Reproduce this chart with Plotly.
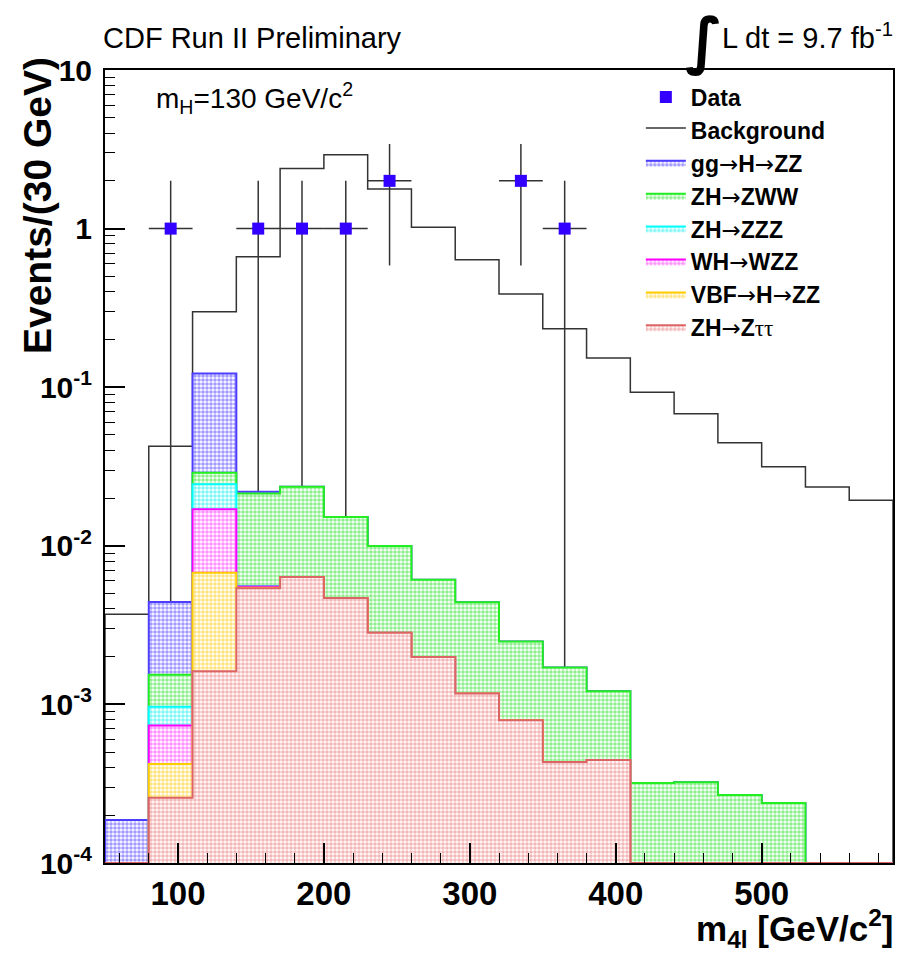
import numpy as np
import plotly.graph_objects as go

# ---------------- data ----------------
bin_edges = [50, 80, 110, 140, 170, 200, 230, 260, 290, 320, 350, 380,
             410, 440, 470, 500, 530, 560, 590]

background = [3.7e-3, 4.25e-2, 0.299, 0.665, 2.39, 2.92, 1.78, 1.02, 0.637,
              0.387, 0.234, 0.153, 0.0929, 0.0681, 0.0447, 0.0315, 0.0235, 0.0194]

gg_h_zz = [1.87e-4, 2.88e-3, 9.31e-2, 5.0e-4, 0, 0, 0, 0, 0,
           0, 0, 0, 0, 0, 0, 0, 0, 0]
zh_zww = [0, 5.7e-4, 4.5e-3, 1.582e-2, 1.724e-2, 1.051e-2, 7.14e-3, 4.12e-3, 3.23e-3,
          1.696e-3, 1.277e-3, 7.64e-4, 3.19e-4, 3.23e-4, 2.68e-4, 2.39e-4, 0, 0]
wh_wzz = [0, 3.15e-4, 1.02e-2, 9e-5, 0, 0, 0, 0, 0,
          0, 0, 0, 0, 0, 0, 0, 0, 0]
zh_zzz = [0, 2.32e-4, 7.43e-3, 5e-5, 0, 0, 0, 0, 0,
          0, 0, 0, 0, 0, 0, 0, 0, 0]
vbf_h_zz = [0, 1.63e-4, 5.15e-3, 4e-5, 0, 0, 0, 0, 0,
            0, 0, 0, 0, 0, 0, 0, 0, 0]
zh_ztautau = [0, 2.58e-4, 1.62e-3, 5.40e-3, 6.36e-3, 4.69e-3, 2.83e-3, 1.99e-3, 1.17e-3,
              7.94e-4, 4.33e-4, 4.46e-4, 0, 0, 0, 0, 0, 0]

data_mass = [95, 155, 185, 215, 245, 335, 365]
data_counts = [1, 1, 1, 1, 2, 2, 1]

y_tick_vals = [1e-4, 1e-3, 1e-2, 1e-1, 1, 10]
y_tick_text = ["10<sup>-4</sup>", "10<sup>-3</sup>", "10<sup>-2</sup>",
               "10<sup>-1</sup>", "1", "10"]

# ---------------- helpers ----------------
Y_FLOOR = 1e-4
FONT = "Liberation Sans, Arial, Helvetica, sans-serif"
ARROW = '<span style="font-family:DejaVu Sans;font-weight:normal">\u2192</span>'
TAU = '<span style="font-family:Liberation Serif;font-weight:normal">\u03c4\u03c4</span>'


def step_polygon(edges, vals):
    xs, ys = [edges[0]], [Y_FLOOR]
    for i, v in enumerate(vals):
        v = v if v > Y_FLOOR else Y_FLOOR
        xs += [edges[i], edges[i + 1]]
        ys += [v, v]
    xs.append(edges[-1])
    ys.append(Y_FLOOR)
    return xs, ys


fig = go.Figure()

# data points with Poisson errors (drawn first so the stack hides the lower bars)
counts = np.array(data_counts, dtype=float)
fig.add_trace(go.Scatter(
    x=data_mass, y=data_counts, mode="markers", name="Data",
    marker=dict(symbol="square", size=12, color="#3300ff", line=dict(width=0)),
    error_y=dict(type="data", array=np.sqrt(counts), color="#333333", thickness=1.5, width=0),
    error_x=dict(type="constant", value=15, color="#333333", thickness=1.5, width=0),
    legendrank=1,
))

# background histogram
bx, by = step_polygon(bin_edges, background)
fig.add_trace(go.Scatter(
    x=bx, y=by, mode="lines", fill="toself", fillcolor="rgba(0,0,0,0)",
    line=dict(color="#333333", width=1.5), name="Background", legendrank=2,
    hoverinfo="skip",
))

# signal stack (bottom -> top)
stack = [
    ("ZH" + ARROW + "Z" + TAU, zh_ztautau, "#dc6464", "#e87070", 8),
    ("VBF" + ARROW + "H" + ARROW + "ZZ", vbf_h_zz, "#ffcc00", "#ffc800", 7),
    ("WH" + ARROW + "WZZ", wh_wzz, "#ff00ff", "#ff22ff", 6),
    ("ZH" + ARROW + "ZZZ", zh_zzz, "#00ffff", "#00eeee", 5),
    ("ZH" + ARROW + "ZWW", zh_zww, "#22ee22", "#22dd22", 4),
    ("gg" + ARROW + "H" + ARROW + "ZZ", gg_h_zz, "#4d3dff", "#4433ff", 3),
]
cum = np.zeros(len(background))
layers = []
for name, vals, lc, pc, rank in stack:
    cum = cum + np.array(vals, dtype=float)
    layers.append((name, cum.copy(), lc, pc, rank))

for name, top, lc, pc, rank in reversed(layers):
    px, py = step_polygon(bin_edges, top)
    fig.add_trace(go.Scatter(
        x=px, y=py, mode="lines", fill="toself", name=name,
        line=dict(color=lc, width=2),
        fillcolor="white",
        fillpattern=dict(shape=".", fgcolor=pc, bgcolor="white", size=4, solidity=0.65),
        legendrank=rank, hoverinfo="skip",
    ))

# ---------------- layout ----------------
axis_common = dict(
    showline=True, linecolor="black", linewidth=2, mirror=True,
    showgrid=False, zeroline=False, ticks="inside", tickcolor="black",
    tickwidth=1.5, ticklen=20,
)

fig.update_layout(
    width=907, height=954,
    margin=dict(l=105, r=14, t=70, b=91),
    paper_bgcolor="white", plot_bgcolor="white",
    font=dict(family=FONT, color="black"),
    showlegend=True,
    legend=dict(
        x=0.68, y=0.993, xanchor="left", yanchor="top",
        bgcolor="rgba(0,0,0,0)", borderwidth=0,
        font=dict(family=FONT, size=23, color="black", weight="bold"),
        itemwidth=40, traceorder="normal",
    ),
    xaxis=dict(
        range=[50, 590], tick0=0, dtick=100,
        tickfont=dict(family=FONT, size=33, color="black", weight="bold"),
        minor=dict(dtick=20, tick0=0, ticks="inside", ticklen=10, tickcolor="black",
                   tickwidth=1, showgrid=False),
        **axis_common,
    ),
    yaxis=dict(
        type="log", range=[-4, 1], tickmode="array",
        tickvals=y_tick_vals, ticktext=y_tick_text,
        tickfont=dict(family=FONT, size=30, color="black", weight="bold"),
        ticklabelstandoff=5,
        minor=dict(dtick="D1", ticks="inside", ticklen=10, tickcolor="black",
                   tickwidth=1, showgrid=False),
        **axis_common,
    ),
)

annotations = [
    dict(text="CDF Run II Preliminary", xref="paper", yref="paper",
         x=-0.005, y=1.04, xanchor="left", yanchor="middle", showarrow=False,
         font=dict(family=FONT, size=29, color="black")),
    dict(text="\u222b", xref="paper", yref="paper",
         x=0.76, y=1.086, xanchor="center", yanchor="top", showarrow=False,
         font=dict(family="DejaVu Sans", size=62, color="black", weight="bold")),
    dict(text="L dt = 9.7 fb<sup>-1</sup>", xref="paper", yref="paper",
         x=1.003, y=1.043, xanchor="right", yanchor="middle", showarrow=False,
         font=dict(family=FONT, size=29, color="black")),
    dict(text="m<sub>H</sub>=130 GeV/c<sup>2</sup>", xref="paper", yref="paper",
         x=0.062, y=0.965, xanchor="left", yanchor="middle", showarrow=False,
         font=dict(family=FONT, size=28, color="black")),
    dict(text="m<sub>4l</sub> [GeV/c<sup>2</sup>]", xref="paper", yref="paper",
         x=1.003, y=-0.083, xanchor="right", yanchor="middle", showarrow=False,
         font=dict(family=FONT, size=35, color="black", weight="bold")),
    dict(text="Events/(30 GeV)", xref="paper", yref="paper",
         x=-0.085, y=0.8285, xanchor="center", yanchor="middle", showarrow=False,
         textangle=-90,
         font=dict(family=FONT, size=39, color="black", weight="bold")),
]
fig.update_layout(annotations=annotations)

fig.write_html("out.html", config={"displayModeBar": False},
               post_script="document.body.style.margin='0';document.body.style.padding='0';")
